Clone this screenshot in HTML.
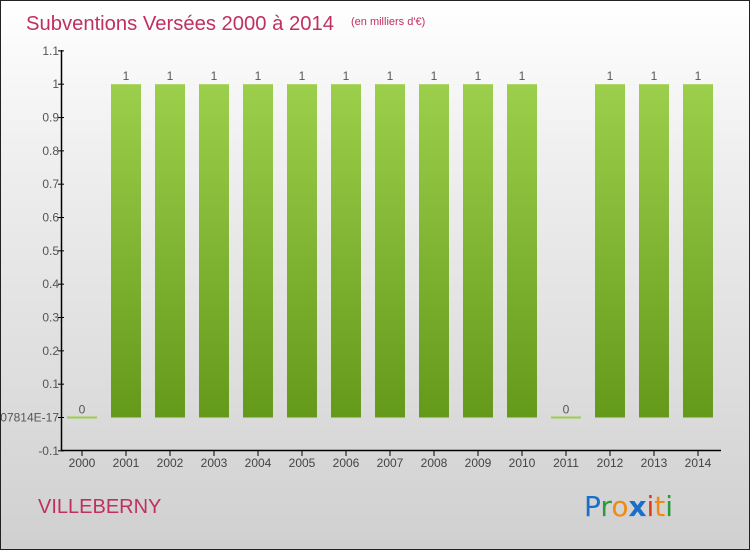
<!DOCTYPE html>
<html><head><meta charset="utf-8"><style>
html,body{margin:0;padding:0}
body{width:750px;height:550px;overflow:hidden;font-family:"Liberation Sans",sans-serif}
#wrap{position:relative;width:748px;height:548px;border:1px solid #222;background:linear-gradient(#fff 0%,#eee 30%,#d0d0d0 100%)}
</style></head><body>
<div id="wrap">
<svg id="chart" width="748" height="548" style="position:absolute;left:0;top:0">
<defs><linearGradient id="bg" x1="0" y1="0" x2="0" y2="1"><stop offset="0" stop-color="#9ccf4b"/><stop offset="1" stop-color="#64991a"/></linearGradient></defs>
<text x="25" y="29" font-size="20" fill="#c0305f" textLength="308" lengthAdjust="spacingAndGlyphs">Subventions Versées 2000 à 2014</text>
<text x="350" y="24" font-size="11" fill="#c0305f">(en milliers d'€)</text>
<text x="37" y="512" font-size="20" fill="#c0305f">VILLEBERNY</text>
<g font-size="28" font-family="'DejaVu Sans',sans-serif">
<text x="583" y="515"><tspan fill="#1a6fc9">P</tspan><tspan fill="#2a9a3a">r</tspan><tspan fill="#f08a10">o</tspan><tspan fill="#1a6fc9" font-weight="bold">x</tspan><tspan fill="#e03a1a">i</tspan><tspan fill="#f08a10">t</tspan><tspan fill="#2a9a3a">i</tspan></text></g>
<g id="axes"></g><g id="bars"></g>
</svg></div>
<script>
const years=["2000","2001","2002","2003","2004","2005","2006","2007","2008","2009","2010","2011","2012","2013","2014"];
const values=[0,1,1,1,1,1,1,1,1,1,1,0,1,1,1];
const valueLabels=["0","1","1","1","1","1","1","1","1","1","1","0","1","1","1"];
const yTicks=[-0.1,0,0.1,0.2,0.3,0.4,0.5,0.6,0.7,0.8,0.9,1,1.1];
const yTickLabels=["-0.1","1.3877787807814E-17","0.1","0.2","0.3","0.4","0.5","0.6","0.7","0.8","0.9","1","1.1"];
const NS="http://www.w3.org/2000/svg";
const y=v=>416.5-(v*333.3);
const x=i=>81+i*44;
const ax=document.getElementById('axes'),bg=document.getElementById('bars');
function mk(t,a,p){const e=document.createElementNS(NS,t);for(const k in a)e.setAttribute(k,a[k]);p.appendChild(e);return e;}
const yl=mk('line',{x1:60.5,y1:49,x2:60.5,y2:450,stroke:'#000','stroke-width':1.5},ax);


const xl=mk('line',{x1:60,y1:449.5,x2:720,y2:449.5,stroke:'#000','stroke-width':1.5},ax);


yTicks.forEach((v,i)=>{
 mk('line',{x1:57,x2:63,y1:y(v),y2:y(v),stroke:'#000'},ax);
 const t=mk('text',{x:58,y:y(v)+4,'text-anchor':'end','font-size':12,fill:'#555'},ax);
 t.textContent=yTickLabels[i];
 
 
});
years.forEach((yr,i)=>{
 mk('line',{x1:x(i),x2:x(i),y1:450,y2:455,stroke:'#000'},ax);
 const t=mk('text',{x:x(i),y:466,'text-anchor':'middle','font-size':12,fill:'#444'},ax);
 t.textContent=yr;
 
 
 const top=y(values[i]),base=y(0);
 let r;
 if(values[i]===0){r=mk('rect',{x:x(i)-15,y:base-1,width:30,height:2,fill:'#9ccf4b'},bg);}
 else{r=mk('rect',{x:x(i)-15,y:top,width:30,height:base-top,fill:'url(#bg)'},bg);}
 
 
 const l=mk('text',{x:x(i),y:top-4,'text-anchor':'middle','font-size':12,fill:'#555'},bg);
 l.textContent=valueLabels[i];
 
 
});
</script>
</body></html>
